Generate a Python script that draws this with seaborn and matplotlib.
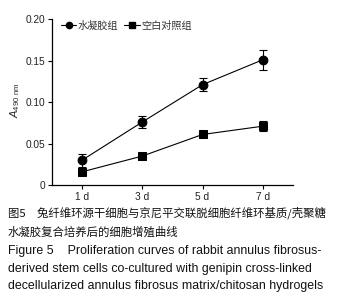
import matplotlib
matplotlib.use("Agg")
import matplotlib.pyplot as plt
import seaborn as sns
import pandas as pd
from matplotlib.lines import Line2D

days = [1, 3, 5, 7]
day_labels = ["1 d", "3 d", "5 d", "7 d"]
hydrogel = [0.030, 0.076, 0.121, 0.151]
hydrogel_err = [0.008, 0.007, 0.008, 0.012]
control = [0.016, 0.035, 0.061, 0.071]
control_err = [0.002, 0.002, 0.002, 0.006]
series_names = ["水凝胶组", "空白对照组"]

sns.set_style("ticks")
plt.rcParams['font.family'] = ['Liberation Sans', 'Noto Sans CJK SC', 'DejaVu Sans']
plt.rcParams['mathtext.fontset'] = 'custom'
plt.rcParams['mathtext.rm'] = 'Liberation Sans'
plt.rcParams['mathtext.it'] = 'Liberation Sans:italic'

df = pd.DataFrame({
    "day": days * 2,
    "value": hydrogel + control,
    "group": [series_names[0]] * 4 + [series_names[1]] * 4,
})

fig = plt.figure(figsize=(3.39, 3.03), dpi=100)
ax = fig.add_axes([0.153, 0.389, 0.711, 0.548])

sns.lineplot(data=df, x="day", y="value", hue="group", style="group",
             markers={series_names[0]: "o", series_names[1]: "s"},
             dashes=False, palette=["black", "black"], linewidth=0.8,
             markersize=6.3, markeredgecolor="black", ax=ax, legend=False)
ax.errorbar(days, hydrogel, yerr=hydrogel_err, fmt="none", ecolor="black",
            elinewidth=0.8, capsize=3, capthick=0.8)
ax.errorbar(days, control, yerr=control_err, fmt="none", ecolor="black",
            elinewidth=0.8, capsize=3, capthick=0.8)

ax.set_xlim(0, 8)
ax.set_ylim(0, 0.2)
ax.set_xticks(days)
ax.set_xticklabels(day_labels)
ax.set_yticks([0, 0.05, 0.10, 0.15, 0.20])
ax.set_yticklabels(["0", "0.05", "0.10", "0.15", "0.20"])
ax.tick_params(labelsize=7.3, width=0.8, length=3, color="black", pad=2,
               labelcolor="#222222")
for s in ["left", "bottom"]:
    ax.spines[s].set_linewidth(0.9)
    ax.spines[s].set_color("black")
sns.despine(ax=ax)
ax.set_xlabel("")
ax.set_ylabel("")

fig.text(15 / 339, 1 - 100 / 303, r"$\mathit{A}_{490\ \mathrm{nm}}$", rotation=90,
         ha="center", va="center", fontsize=8)

handles = [Line2D([], [], color="black", marker="o", markersize=4.5, linewidth=0.8),
           Line2D([], [], color="black", marker="s", markersize=4.5, linewidth=0.8)]
leg = ax.legend(handles, series_names, loc="upper left", ncol=2, frameon=False,
                bbox_to_anchor=(0.0, 1.045), handlelength=1.5,
                handletextpad=0.15, columnspacing=0.6,
                prop={'family': ['Noto Sans CJK SC'], 'size': 7.3})
for t in leg.get_texts():
    t.set_color("#333333")

cap_fam = ['Liberation Sans', 'Noto Sans CJK SC']
x0 = 8 / 339
fig.text(x0, 1 - 213 / 303, "图5　兔纤维环源干细胞与京尼平交联脱细胞纤维环基质/壳聚糖",
         va="center", ha="left", fontsize=8.2, family=['Noto Sans CJK SC'], color="#111111")
fig.text(x0, 1 - 232 / 303, "水凝胶复合培养后的细胞增殖曲线",
         va="center", ha="left", fontsize=8.2, family=['Noto Sans CJK SC'], color="#111111")
fig.text(x0, 1 - 251 / 303, "Figure 5    Proliferation curves of rabbit annulus fibrosus-",
         va="center", ha="left", fontsize=8.9, family=cap_fam, color="#111111")
fig.text(x0, 1 - 269 / 303, "derived stem cells co-cultured with genipin cross-linked",
         va="center", ha="left", fontsize=8.9, family=cap_fam, color="#111111")
fig.text(x0, 1 - 286 / 303, "decellularized annulus fibrosus matrix/chitosan hydrogels",
         va="center", ha="left", fontsize=8.9, family=cap_fam, color="#111111")

fig.savefig("out.png", dpi=100)
